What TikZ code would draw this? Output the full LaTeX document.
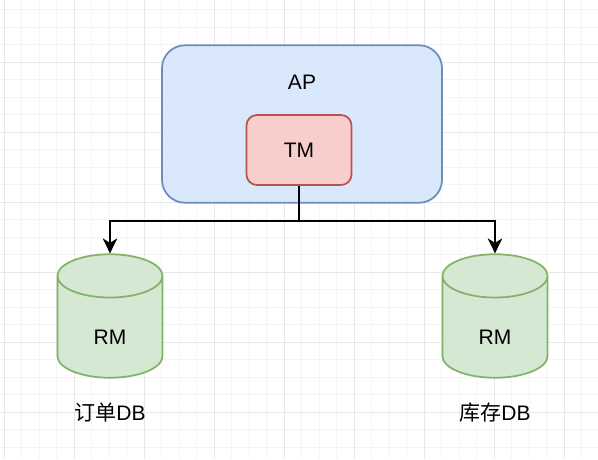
\documentclass[tikz,border=0pt]{standalone}
\usepackage{fontspec}
\setmainfont{Liberation Sans}
\newfontfamily\cjk{Noto Sans CJK SC}
\usetikzlibrary{shapes.geometric, arrows.meta, positioning}
\definecolor{apfill}{HTML}{DAE8FC}
\definecolor{apline}{HTML}{6C8EBF}
\definecolor{tmfill}{HTML}{F8CECC}
\definecolor{tmline}{HTML}{B85450}
\definecolor{dbfill}{HTML}{D5E8D4}
\definecolor{dbline}{HTML}{82B366}
\definecolor{gridminor}{RGB}{244,244,244}
\definecolor{gridmajor}{RGB}{232,232,232}
\tikzstyle{apbox} = [rectangle, rounded corners=23pt, minimum width=280pt, minimum height=157.5pt, draw=apline, fill=apfill, line width=1.75pt]
\tikzstyle{tmbox} = [rectangle, rounded corners=10.5pt, minimum width=105pt, minimum height=70pt, text centered, draw=tmline, fill=tmfill, line width=1.75pt]
\tikzstyle{db} = [cylinder, shape border rotate=90, aspect=1.1, anchor=shape center, minimum width=105pt, minimum height=123.5pt, text height=27pt, draw=dbline, fill=dbfill, line width=1.75pt]
\tikzstyle{connector} = [line width=1.75pt, -{Stealth[length=15pt,width=14.5pt,inset=4.5pt]}]
\begin{document}
\begin{tikzpicture}[x=1pt, y=-1pt, every node/.style={font=\fontsize{21}{25}\selectfont}]
	\useasboundingbox (0,0) rectangle (598,459);
	% background grid
	\foreach \i in {0,...,34}
		\draw[gridminor, line width=0.9pt] ({4.3+17.5*\i},0) -- ++(0,459);
	\foreach \i in {0,...,25}
		\draw[gridminor, line width=0.9pt] (0,{9.5+17.5*\i}) -- ++(598,0);
	\foreach \i in {0,...,8}
		\draw[gridmajor, line width=0.9pt] ({4.3+70*\i},0) -- ++(0,459);
	\foreach \i in {1,...,6}
		\draw[gridmajor, line width=0.9pt] (0,{-8+70*\i}) -- ++(598,0);
	\node (ap) [apbox] at (302,124) {};
	\node (aptitle) at (302,82) {AP};
	\node (tm) [tmbox] at (299,150) {TM};
	\node (order) [db] at (110,316) {RM};
	\node (stock) [db] at (495,316) {RM};
	\node (orderdb) at (110,413) {{\cjk 订单}DB};
	\node (stockdb) at (495,413) {{\cjk 库存}DB};
	\draw [connector] (tm.south) -- ++(0,35) -| (order.north);
	\draw [connector] (tm.south) -- ++(0,35) -| (stock.north);
\end{tikzpicture}
\end{document}
